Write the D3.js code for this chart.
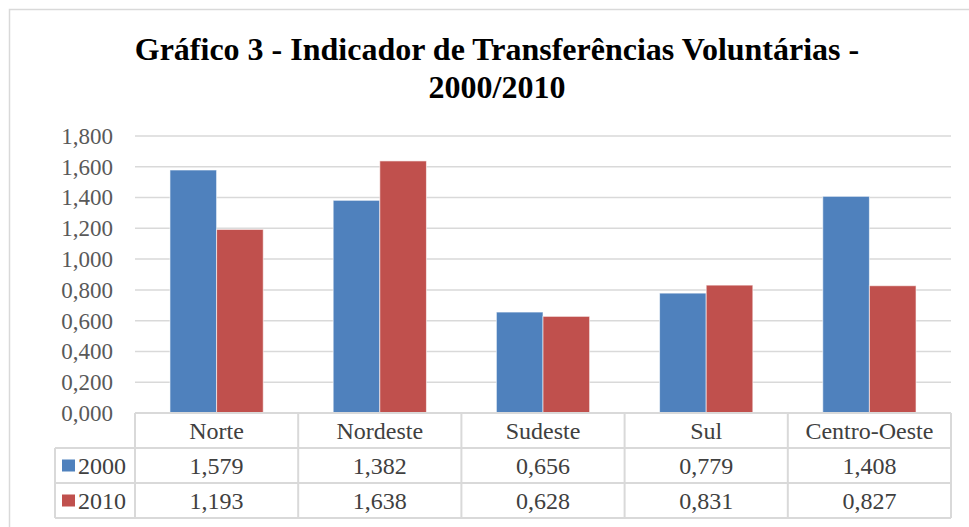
<!DOCTYPE html>
<html lang="pt">
<head>
<meta charset="utf-8">
<title>Gráfico 3 - Indicador de Transferências Voluntárias</title>
<script src="https://cdn.jsdelivr.net/npm/d3@7"></script>
<style>
  body { margin: 0; background: #fff; }
  svg text { font-family: "Liberation Serif", "Times New Roman", serif; }
</style>
</head>
<body>
<script>
// data
var regioes = ["Norte", "Nordeste", "Sudeste", "Sul", "Centro-Oeste"];
var anos = ["2000", "2010"];
var valores2000 = [1.579, 1.382, 0.656, 0.779, 1.408];
var valores2010 = [1.193, 1.638, 0.628, 0.831, 0.827];
var ticks = [0, 0.2, 0.4, 0.6, 0.8, 1.0, 1.2, 1.4, 1.6, 1.8];
var cores = ["#4F81BD", "#C0504D"];

var w = 969, h = 527;
var plotL = 135, plotR = 951, plotT = 136, plotB = 413;
var rowY = [413, 448, 483, 518];

var br = d3.formatLocale({ decimal: ",", thousands: ".", grouping: [3], currency: ["R$", ""] });
var fmt = br.format(".3f");

var series = [valores2000, valores2010];

var svg = d3.select("body").append("svg")
  .attr("width", w)
  .attr("height", h);

// chart border (only top and left visible)
svg.append("rect")
  .attr("x", 9.5).attr("y", 9.5)
  .attr("width", 1000).attr("height", 600)
  .attr("fill", "#fff")
  .attr("stroke", "#D9D9D9")
  .attr("stroke-width", 1.5);

// title
svg.append("text")
  .attr("x", 497).attr("y", 60)
  .attr("text-anchor", "middle")
  .attr("font-size", 32).attr("font-weight", "bold")
  .attr("fill", "#000")
  .text("Gráfico 3 - Indicador de Transferências Voluntárias -");
svg.append("text")
  .attr("x", 497).attr("y", 98)
  .attr("text-anchor", "middle")
  .attr("font-size", 32).attr("font-weight", "bold")
  .attr("fill", "#000")
  .text("2000/2010");

var x = d3.scaleBand()
  .domain(regioes)
  .range([plotL, plotR]);

var xs = d3.scaleBand()
  .domain(anos)
  .range([0, x.bandwidth()])
  .paddingInner(0)
  .paddingOuter(0.75);

var y = d3.scaleLinear()
  .domain([0, 1.8])
  .range([plotB, plotT]);

// gridlines
svg.append("g")
  .selectAll("line")
  .data(ticks.slice(1))
  .enter().append("line")
  .attr("x1", plotL).attr("x2", plotR)
  .attr("y1", function(d) { return y(d); })
  .attr("y2", function(d) { return y(d); })
  .attr("stroke", "#D9D9D9")
  .attr("stroke-width", 1.5);

// y axis labels
var yAxis = d3.axisLeft(y)
  .tickValues(ticks)
  .tickFormat(fmt)
  .tickSize(0)
  .tickPadding(0);

var gy = svg.append("g")
  .attr("transform", "translate(113,0)")
  .call(yAxis);
gy.select(".domain").remove();
gy.selectAll("text")
  .attr("font-size", 23)
  .attr("fill", "#595959")
  .attr("font-family", "Liberation Serif, Times New Roman, serif");

// bars
anos.forEach(function(ano, i) {
  svg.append("g")
    .selectAll("rect")
    .data(series[i])
    .enter().append("rect")
    .attr("x", function(d, j) { return x(regioes[j]) + xs(ano); })
    .attr("y", function(d) { return y(d); })
    .attr("width", xs.bandwidth())
    .attr("height", function(d) { return plotB - y(d); })
    .attr("fill", cores[i])
    .attr("stroke", "#fff")
    .attr("stroke-opacity", 0.6)
    .attr("stroke-width", 1);
});

// data table
var tbl = svg.append("g");
var lineColor = "#D9D9D9";

// horizontal lines
tbl.append("line")
  .attr("x1", plotL).attr("x2", plotR)
  .attr("y1", rowY[0]).attr("y2", rowY[0])
  .attr("stroke", lineColor).attr("stroke-width", 2);
[rowY[1], rowY[2], rowY[3]].forEach(function(yy) {
  tbl.append("line")
    .attr("x1", 55).attr("x2", plotR)
    .attr("y1", yy).attr("y2", yy)
    .attr("stroke", lineColor).attr("stroke-width", 2);
});

// vertical lines
var vx = regioes.map(function(r) { return x(r); }).concat([plotR]);
vx.forEach(function(xx) {
  tbl.append("line")
    .attr("x1", xx).attr("x2", xx)
    .attr("y1", rowY[0]).attr("y2", rowY[3])
    .attr("stroke", lineColor).attr("stroke-width", 2);
});
tbl.append("line")
  .attr("x1", 55).attr("x2", 55)
  .attr("y1", rowY[1]).attr("y2", rowY[3])
  .attr("stroke", lineColor).attr("stroke-width", 2);

// category labels
tbl.selectAll("text.cat")
  .data(regioes)
  .enter().append("text")
  .attr("class", "cat")
  .attr("x", function(d) { return x(d) + x.bandwidth() / 2; })
  .attr("y", (rowY[0] + rowY[1]) / 2)
  .attr("dy", "0.35em")
  .attr("text-anchor", "middle")
  .attr("font-size", 24)
  .attr("fill", "#404040")
  .text(function(d) { return d; });

// series rows
anos.forEach(function(ano, i) {
  var cy = (rowY[i + 1] + rowY[i + 2]) / 2;
  tbl.append("rect")
    .attr("x", 62).attr("y", cy - 6)
    .attr("width", 13).attr("height", 12)
    .attr("fill", cores[i]);
  tbl.append("text")
    .attr("x", 78).attr("y", cy)
    .attr("dy", "0.35em")
    .attr("font-size", 24)
    .attr("fill", "#404040")
    .text(ano);
  tbl.append("g")
    .selectAll("text")
    .data(series[i])
    .enter().append("text")
    .attr("x", function(d, j) { return x(regioes[j]) + x.bandwidth() / 2; })
    .attr("y", cy)
    .attr("dy", "0.35em")
    .attr("text-anchor", "middle")
    .attr("font-size", 24)
    .attr("fill", "#404040")
    .text(function(d) { return fmt(d); });
});
</script>
</body>
</html>
